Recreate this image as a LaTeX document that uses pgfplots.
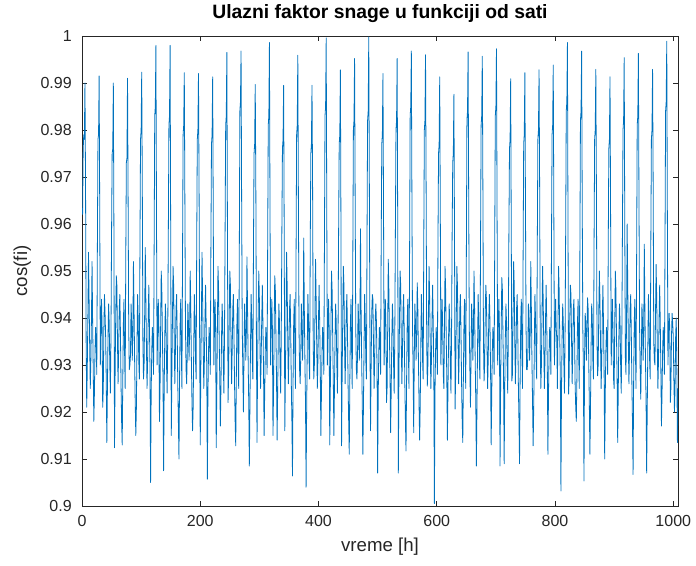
\documentclass[border=0pt]{standalone}
\usepackage{fontspec}
\setmainfont{Liberation Sans}
\usepackage{pgfplots}
\usepackage{pgfplotstable}
\pgfplotsset{compat=1.18}
\definecolor{mblue}{RGB}{0,114,189}
\definecolor{axgray}{RGB}{38,38,38}
\pgfplotstableread[row sep=\\]{
y\\
0.962\\0.976\\0.979\\0.978\\0.990\\0.968\\0.935\\0.921\\0.930\\0.941\\0.954\\0.944\\0.934\\0.925\\0.931\\0.940\\0.952\\0.939\\0.929\\0.918\\0.924\\0.933\\0.938\\0.935\\
0.928\\0.955\\0.978\\0.979\\0.9915\\0.962\\0.930\\0.937\\0.944\\0.938\\0.921\\0.925\\0.938\\0.945\\0.941\\0.936\\0.927\\0.9135\\0.925\\0.936\\0.943\\0.939\\0.930\\0.924\\
0.936\\0.958\\0.975\\0.976\\0.990\\0.958\\0.9124\\0.928\\0.940\\0.949\\0.947\\0.935\\0.926\\0.933\\0.942\\0.945\\0.937\\0.926\\0.918\\0.913\\0.927\\0.939\\0.944\\0.933\\
0.925\\0.952\\0.973\\0.974\\0.991\\0.965\\0.938\\0.929\\0.930\\0.932\\0.943\\0.939\\0.931\\0.937\\0.952\\0.942\\0.931\\0.922\\0.915\\0.921\\0.934\\0.945\\0.940\\0.931\\
0.927\\0.955\\0.978\\0.980\\0.9923\\0.968\\0.935\\0.927\\0.930\\0.941\\0.955\\0.944\\0.934\\0.925\\0.931\\0.940\\0.947\\0.939\\0.929\\0.905\\0.924\\0.933\\0.938\\0.935\\
0.928\\0.955\\0.983\\0.985\\0.998\\0.962\\0.930\\0.937\\0.944\\0.938\\0.918\\0.925\\0.938\\0.950\\0.946\\0.936\\0.927\\0.9075\\0.925\\0.936\\0.943\\0.939\\0.930\\0.924\\
0.936\\0.958\\0.981\\0.983\\0.998\\0.958\\0.915\\0.928\\0.940\\0.951\\0.947\\0.935\\0.926\\0.933\\0.942\\0.945\\0.937\\0.926\\0.918\\0.910\\0.927\\0.939\\0.944\\0.933\\
0.925\\0.952\\0.979\\0.981\\0.9922\\0.965\\0.938\\0.929\\0.926\\0.932\\0.943\\0.939\\0.931\\0.937\\0.950\\0.942\\0.931\\0.922\\0.916\\0.921\\0.934\\0.945\\0.940\\0.931\\
0.927\\0.955\\0.978\\0.980\\0.992\\0.968\\0.935\\0.913\\0.930\\0.941\\0.954\\0.944\\0.934\\0.925\\0.931\\0.940\\0.947\\0.939\\0.929\\0.9057\\0.924\\0.933\\0.938\\0.935\\
0.928\\0.955\\0.977\\0.979\\0.9913\\0.962\\0.930\\0.937\\0.944\\0.938\\0.9124\\0.925\\0.938\\0.951\\0.946\\0.936\\0.927\\0.917\\0.925\\0.936\\0.943\\0.939\\0.930\\0.924\\
0.936\\0.958\\0.981\\0.983\\0.9965\\0.958\\0.922\\0.928\\0.940\\0.950\\0.947\\0.935\\0.926\\0.933\\0.942\\0.945\\0.937\\0.926\\0.918\\0.9128\\0.927\\0.939\\0.944\\0.933\\
0.925\\0.952\\0.984\\0.986\\0.9968\\0.965\\0.938\\0.929\\0.920\\0.932\\0.943\\0.939\\0.931\\0.937\\0.953\\0.942\\0.931\\0.922\\0.9085\\0.921\\0.934\\0.945\\0.940\\0.931\\
0.927\\0.955\\0.975\\0.977\\0.9897\\0.968\\0.935\\0.9135\\0.930\\0.941\\0.950\\0.944\\0.934\\0.925\\0.931\\0.940\\0.947\\0.939\\0.929\\0.915\\0.924\\0.933\\0.938\\0.935\\
0.928\\0.955\\0.981\\0.983\\0.9986\\0.962\\0.930\\0.937\\0.944\\0.938\\0.915\\0.925\\0.938\\0.949\\0.946\\0.936\\0.927\\0.914\\0.925\\0.936\\0.943\\0.939\\0.930\\0.924\\
0.936\\0.958\\0.976\\0.978\\0.9895\\0.958\\0.916\\0.928\\0.940\\0.954\\0.947\\0.935\\0.926\\0.933\\0.942\\0.945\\0.937\\0.926\\0.918\\0.9064\\0.927\\0.939\\0.944\\0.933\\
0.925\\0.952\\0.979\\0.981\\0.9959\\0.965\\0.938\\0.929\\0.926\\0.932\\0.943\\0.939\\0.931\\0.937\\0.957\\0.942\\0.931\\0.922\\0.904\\0.921\\0.934\\0.945\\0.940\\0.931\\
0.927\\0.955\\0.975\\0.977\\0.9895\\0.968\\0.935\\0.927\\0.930\\0.941\\0.9525\\0.944\\0.934\\0.925\\0.931\\0.940\\0.947\\0.939\\0.929\\0.915\\0.924\\0.933\\0.938\\0.935\\
0.928\\0.955\\0.983\\0.985\\0.9996\\0.962\\0.930\\0.937\\0.944\\0.938\\0.913\\0.925\\0.938\\0.950\\0.946\\0.936\\0.927\\0.915\\0.925\\0.936\\0.943\\0.939\\0.930\\0.924\\
0.936\\0.958\\0.977\\0.979\\0.9928\\0.958\\0.9128\\0.928\\0.940\\0.951\\0.947\\0.935\\0.926\\0.933\\0.942\\0.945\\0.937\\0.926\\0.918\\0.911\\0.927\\0.939\\0.944\\0.933\\
0.925\\0.952\\0.980\\0.982\\0.9952\\0.965\\0.938\\0.929\\0.927\\0.932\\0.943\\0.939\\0.931\\0.937\\0.959\\0.942\\0.931\\0.922\\0.911\\0.921\\0.934\\0.945\\0.940\\0.931\\
0.927\\0.955\\0.982\\0.984\\0.9998\\0.968\\0.935\\0.916\\0.930\\0.941\\0.945\\0.944\\0.934\\0.925\\0.931\\0.940\\0.943\\0.939\\0.929\\0.907\\0.924\\0.933\\0.938\\0.935\\
0.928\\0.955\\0.977\\0.979\\0.992\\0.962\\0.930\\0.937\\0.944\\0.938\\0.922\\0.925\\0.938\\0.9525\\0.946\\0.936\\0.927\\0.9156\\0.925\\0.936\\0.943\\0.939\\0.930\\0.924\\
0.936\\0.958\\0.980\\0.982\\0.9952\\0.958\\0.907\\0.928\\0.940\\0.950\\0.947\\0.935\\0.926\\0.933\\0.942\\0.945\\0.937\\0.926\\0.918\\0.9117\\0.927\\0.939\\0.944\\0.933\\
0.925\\0.952\\0.983\\0.985\\0.9968\\0.965\\0.938\\0.929\\0.9156\\0.932\\0.943\\0.939\\0.931\\0.937\\0.9475\\0.942\\0.931\\0.922\\0.914\\0.921\\0.934\\0.945\\0.940\\0.931\\
0.927\\0.955\\0.980\\0.982\\0.996\\0.968\\0.935\\0.9255\\0.930\\0.941\\0.951\\0.944\\0.934\\0.925\\0.931\\0.940\\0.947\\0.939\\0.929\\0.9005\\0.924\\0.933\\0.938\\0.935\\
0.928\\0.955\\0.975\\0.977\\0.9913\\0.962\\0.930\\0.937\\0.944\\0.938\\0.928\\0.925\\0.938\\0.951\\0.946\\0.936\\0.927\\0.914\\0.925\\0.936\\0.943\\0.939\\0.930\\0.924\\
0.936\\0.958\\0.973\\0.975\\0.9876\\0.958\\0.9206\\0.928\\0.940\\0.951\\0.947\\0.935\\0.926\\0.933\\0.942\\0.945\\0.937\\0.926\\0.918\\0.9135\\0.927\\0.939\\0.944\\0.933\\
0.925\\0.952\\0.982\\0.984\\0.9966\\0.965\\0.938\\0.929\\0.921\\0.932\\0.943\\0.939\\0.931\\0.937\\0.950\\0.942\\0.931\\0.922\\0.9085\\0.921\\0.934\\0.945\\0.940\\0.931\\
0.927\\0.955\\0.981\\0.983\\0.9957\\0.968\\0.935\\0.9266\\0.930\\0.941\\0.947\\0.944\\0.934\\0.925\\0.931\\0.940\\0.945\\0.939\\0.929\\0.913\\0.924\\0.933\\0.938\\0.935\\
0.928\\0.955\\0.983\\0.985\\0.9973\\0.962\\0.930\\0.937\\0.944\\0.938\\0.9085\\0.925\\0.938\\0.9486\\0.946\\0.936\\0.927\\0.909\\0.925\\0.936\\0.943\\0.939\\0.930\\0.924\\
0.936\\0.958\\0.976\\0.978\\0.9909\\0.958\\0.9266\\0.928\\0.940\\0.952\\0.947\\0.935\\0.926\\0.933\\0.942\\0.945\\0.937\\0.926\\0.918\\0.909\\0.927\\0.939\\0.944\\0.933\\
0.925\\0.952\\0.977\\0.979\\0.9922\\0.965\\0.938\\0.929\\0.929\\0.932\\0.943\\0.939\\0.931\\0.937\\0.952\\0.942\\0.931\\0.922\\0.9128\\0.921\\0.934\\0.945\\0.940\\0.931\\
0.927\\0.955\\0.978\\0.980\\0.9928\\0.968\\0.935\\0.925\\0.930\\0.941\\0.951\\0.944\\0.934\\0.925\\0.931\\0.940\\0.947\\0.939\\0.929\\0.911\\0.924\\0.933\\0.938\\0.935\\
0.928\\0.955\\0.979\\0.981\\0.9938\\0.962\\0.930\\0.937\\0.944\\0.938\\0.9355\\0.925\\0.938\\0.951\\0.946\\0.936\\0.927\\0.9032\\0.925\\0.936\\0.943\\0.939\\0.930\\0.924\\
0.936\\0.958\\0.984\\0.986\\0.9986\\0.958\\0.9238\\0.928\\0.940\\0.947\\0.945\\0.935\\0.926\\0.933\\0.942\\0.944\\0.937\\0.926\\0.921\\0.918\\0.927\\0.939\\0.944\\0.933\\
0.925\\0.952\\0.982\\0.984\\0.9968\\0.965\\0.938\\0.929\\0.9053\\0.932\\0.941\\0.939\\0.931\\0.937\\0.9443\\0.942\\0.931\\0.922\\0.911\\0.921\\0.934\\0.943\\0.940\\0.931\\
0.927\\0.955\\0.978\\0.980\\0.9929\\0.968\\0.935\\0.9277\\0.930\\0.941\\0.950\\0.944\\0.934\\0.925\\0.931\\0.940\\0.947\\0.939\\0.929\\0.910\\0.924\\0.933\\0.938\\0.935\\
0.928\\0.955\\0.976\\0.978\\0.9913\\0.962\\0.930\\0.937\\0.944\\0.938\\0.927\\0.925\\0.938\\0.950\\0.946\\0.936\\0.927\\0.9135\\0.925\\0.936\\0.943\\0.939\\0.930\\0.924\\
0.936\\0.958\\0.980\\0.982\\0.9954\\0.958\\0.9316\\0.928\\0.940\\0.960\\0.947\\0.935\\0.926\\0.933\\0.942\\0.945\\0.937\\0.926\\0.918\\0.9067\\0.927\\0.939\\0.944\\0.933\\
0.925\\0.952\\0.981\\0.983\\0.9963\\0.965\\0.938\\0.929\\0.9227\\0.932\\0.943\\0.939\\0.931\\0.937\\0.9557\\0.942\\0.931\\0.922\\0.907\\0.921\\0.934\\0.945\\0.940\\0.931\\
0.927\\0.955\\0.978\\0.980\\0.9929\\0.968\\0.935\\0.931\\0.930\\0.941\\0.9514\\0.944\\0.934\\0.925\\0.931\\0.940\\0.947\\0.939\\0.929\\0.917\\0.924\\0.933\\0.938\\0.935\\
0.928\\0.955\\0.984\\0.986\\0.9989\\0.962\\0.930\\0.937\\0.941\\0.938\\0.922\\0.925\\0.936\\0.941\\0.939\\0.936\\0.927\\0.920\\0.925\\0.936\\0.940\\0.930\\0.9135\\0.925\\
}\data

\begin{document}
\begin{tikzpicture}
\begin{axis}[
  at={(0,0)}, anchor=south west,
  scale only axis, width=447pt, height=352.5pt,
  xmin=0, xmax=1008, ymin=0.9, ymax=1,
  xtick={0,200,400,600,800,1000},
  ytick={0.9,0.91,0.92,0.93,0.94,0.95,0.96,0.97,0.98,0.99,1},
  tick align=inside, major tick length=4pt,
  axis line style={axgray, line width=0.5pt},
  tick style={axgray, line width=0.5pt},
  /pgf/number format/assume math mode=true,
  /pgf/number format/1000 sep={},
  yticklabel style={/pgf/number format/fixed, /pgf/number format/precision=2, inner sep=0pt, xshift=-7.5pt},
  xticklabel style={inner sep=0pt, yshift=-7pt},
  ticklabel style={font=\fontsize{12}{14}\selectfont, text=axgray},
  title={Ulazni faktor snage u funkciji od sati},
  title style={font=\fontsize{14.5}{16}\selectfont\bfseries, at={(axis description cs:0.5,1)}, anchor=south, inner sep=0pt, yshift=4pt},
  xlabel={vreme [h]},
  xlabel style={font=\fontsize{14}{16}\selectfont, text=axgray, at={(axis description cs:0.5,0)}, anchor=north, inner sep=0pt, yshift=-24pt},
  ylabel={cos(fi)},
  ylabel style={font=\fontsize{14}{16}\selectfont, text=axgray, at={(axis description cs:-0.1,0.5)}, anchor=center, rotate=0},
  clip=true,
]
\addplot[mblue, line width=0.6pt, line join=round] table[x expr=\coordindex+1, y=y]{\data};
\end{axis}
\pgfresetboundingbox
\useasboundingbox (-61.5pt,-45pt) rectangle (460.5pt,379.5pt);
\end{tikzpicture}
\end{document}
